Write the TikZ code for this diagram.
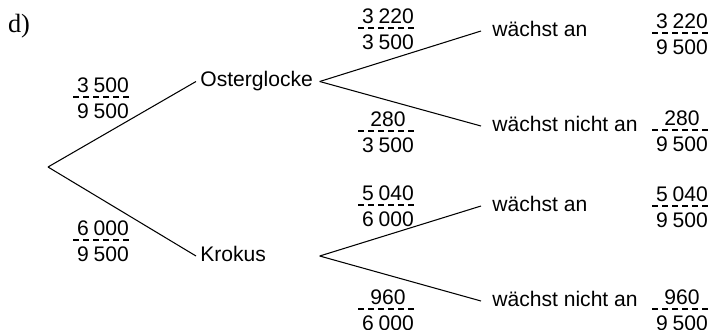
\documentclass[tikz,border=0pt]{standalone}
\usepackage{fontspec}
\setmainfont{Liberation Sans}
\newfontfamily\serifschrift{Liberation Serif}

% Bruch mit gestricheltem Bruchstrich: Name, Mitte des Strichs, Zaehler, Nenner
\newcommand{\bruch}[4]{%
  \coordinate (#1) at (#2);
  \node[zahl, anchor=south] (#1_z) at ([yshift=1.3pt]#1) {#3};
  \node[zahl, anchor=north] (#1_n) at ([yshift=-2.7pt]#1) {#4};
  \draw[bruchstrich] ([xshift=-0.6cm]#1) -- ([xshift=0.6cm]#1);
}
\newcommand{\tsd}{\hspace{0.22em}}

\begin{document}
\begin{tikzpicture}[
    x=0.02cm, y=-0.02cm,
    font=\fontsize{12}{14}\selectfont,
    % Stile
    ast/.style={line width=0.6pt},
    art/.style={anchor=west, text width=2.3cm, align=left, inner xsep=0.08cm, text depth=0.25em},
    ergebnis/.style={anchor=west, inner xsep=0.22cm, text depth=0.25em},
    zahl/.style={inner sep=1pt},
    bruchstrich/.style={line width=0.6pt, dash pattern=on 3.4pt off 2.3pt}
]
    \useasboundingbox (0,0) rectangle (713,329);

    \node[font=\serifschrift\fontsize{15}{17}\selectfont] (teil) at (19,26) {d)};

    % --- ERSTE STUFE ---
    \coordinate (start) at (48,167);
    \node[art] (oster) at (196,81.5) {Osterglocke};
    \node[art] (krokus) at (196,256) {Krokus};

    % --- ZWEITE STUFE ---
    \node[ergebnis] (oster_ja) at (481,31) {wächst an};
    \node[ergebnis] (oster_nein) at (481,126) {wächst nicht an};
    \node[ergebnis] (krokus_ja) at (481,206) {wächst an};
    \node[ergebnis] (krokus_nein) at (481,301) {wächst nicht an};

    % --- AESTE ---
    \draw[ast] (start) -- (oster.west);
    \draw[ast] (start) -- (krokus.west);
    \draw[ast] (oster.east) -- (oster_ja.west);
    \draw[ast] (oster.east) -- (oster_nein.west);
    \draw[ast] (krokus.east) -- (krokus_ja.west);
    \draw[ast] (krokus.east) -- (krokus_nein.west);

    % --- WAHRSCHEINLICHKEITEN AN DEN AESTEN ---
    \bruch{p_o}{103,97}{3\tsd500}{9\tsd500}
    \bruch{p_k}{103,240}{6\tsd000}{9\tsd500}
    \bruch{p_oj}{388,28}{3\tsd220}{3\tsd500}
    \bruch{p_on}{388,131}{280}{3\tsd500}
    \bruch{p_kj}{388,205}{5\tsd040}{6\tsd000}
    \bruch{p_kn}{388,309}{960}{6\tsd000}

    % --- PFADWAHRSCHEINLICHKEITEN ---
    \bruch{e_oj}{682,33}{3\tsd220}{9\tsd500}
    \bruch{e_on}{682,130}{280}{9\tsd500}
    \bruch{e_kj}{682,206}{5\tsd040}{9\tsd500}
    \bruch{e_kn}{682,309}{960}{9\tsd500}

\end{tikzpicture}
\end{document}
